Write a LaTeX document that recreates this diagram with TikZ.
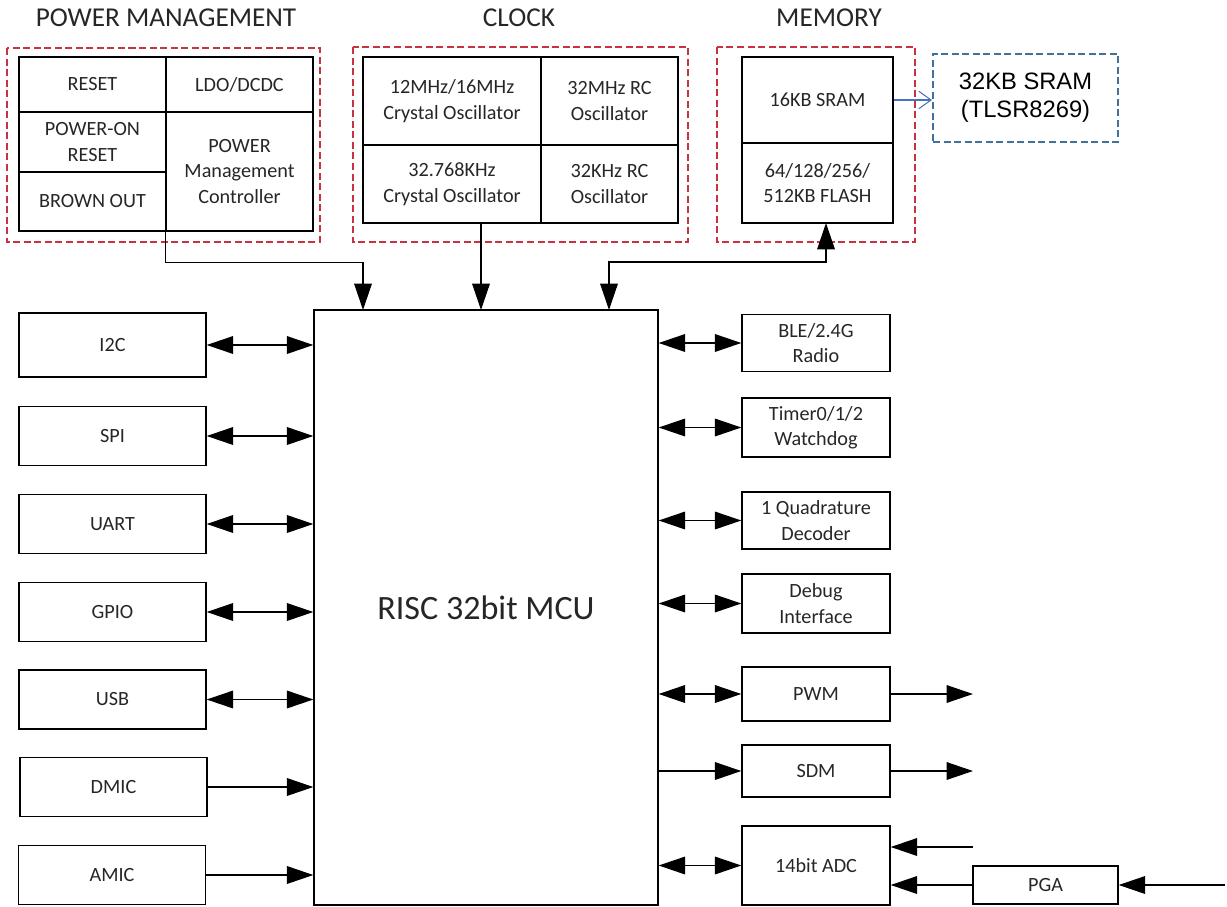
\documentclass[tikz,border=0pt]{standalone}
\usepackage{fontspec}
\setmainfont{Carlito}
\newfontfamily\arialfont{Liberation Sans}
\usetikzlibrary{arrows.meta,positioning,calc}
\definecolor{grpred}{RGB}{200,50,65}
\definecolor{extblue}{RGB}{65,113,156}
\definecolor{arrblue}{RGB}{68,114,196}
\tikzset{
  blk/.style={draw=black,line width=0.8pt,rectangle,inner sep=0pt,align=center,
    text=black!85,font=\fontsize{11.5}{14.5}\selectfont},
  grp/.style={draw=grpred,line width=0.8pt,dash pattern=on 4pt off 2pt},
  ttl/.style={anchor=base,text=black!85,font=\fontsize{15.5}{18}\selectfont},
  lcol/.style={blk,minimum width=3.74cm,minimum height=1.18cm},
  rcol/.style={blk,minimum width=2.96cm}
}

\begin{document}
\begin{tikzpicture}[x=0.02cm,y=-0.02cm,line width=0.8pt,>={Triangle[length=15pt,width=10pt]}]
   \useasboundingbox (0,0) rectangle (1227,906);
   % titles
   \node[ttl] (pwrttl) at (166,27) {POWER MANAGEMENT};
   \node[ttl] (clkttl) at (519,27) {CLOCK};
   \node[ttl] (memttl) at (829,27) {MEMORY};
   % power management
   \begin{scope}[every node/.style={blk,minimum width=2.94cm}]
    \node (reset) [minimum height=1.10cm] at (92.5,84.5) {RESET};
    \node (ldo) [minimum height=1.10cm] at (239.5,84.5) {LDO/DCDC};
    \node (por) [minimum height=1.20cm] at (92.5,142) {POWER-ON\\RESET};
    \node (bod) [minimum height=1.18cm] at (92.5,201.5) {BROWN OUT};
    \node (pmc) [minimum height=2.38cm] at (239.5,171.5) {POWER\\Management\\Controller};
   \end{scope}
   \draw[grp] (7,48) rectangle (320,242);
   % clock
   \begin{scope}[every node/.style={blk}]
    \node (xo1) [minimum width=3.56cm,minimum height=1.76cm] at (452,101) {12MHz/16MHz\\Crystal Oscillator};
    \node (rc1) [minimum width=2.74cm,minimum height=1.76cm] at (609.5,101) {32MHz RC\\Oscillator};
    \node (xo2) [minimum width=3.56cm,minimum height=1.56cm] at (452,184) {32.768KHz\\Crystal Oscillator};
    \node (rc2) [minimum width=2.74cm,minimum height=1.56cm] at (609.5,184) {32KHz RC\\Oscillator};
   \end{scope}
   \draw[grp] (353,47) rectangle (688,242);
   % memory
   \begin{scope}[every node/.style={blk,minimum width=3.02cm}]
    \node (sram) [minimum height=1.72cm] at (817.5,100) {16KB SRAM};
    \node (flash) [minimum height=1.60cm] at (817.5,183) {64/128/256/\\512KB FLASH};
   \end{scope}
   \draw[grp] (717,47) rectangle (915,242);
   \node (ext) [draw=extblue,line width=1.2pt,dash pattern=on 4pt off 2pt,minimum width=3.70cm,
     minimum height=1.76cm,align=center,font=\arialfont\fontsize{13.5}{16}\selectfont] at (1025.5,98) {32KB SRAM\\(TLSR8269)};
   \draw[arrblue,line width=0.6pt,-{Straight Barb[length=7pt,width=10pt]}] (sram.east) -- (sram.east -| ext.west);
   % core
   \node (mcu) [blk,minimum width=6.88cm,minimum height=11.90cm,font=\fontsize{19.4}{23}\selectfont] at (486,607.5) {RISC 32bit MCU};
   \coordinate (pwrin) at (363,310);
   \coordinate (clkin) at (481,310);
   \coordinate (memin) at (609,310);
   \coordinate (flashin) at (826,223);
   \draw[->] (pmc.south west) -- ++(0,31) -| (pwrin);
   \draw[->] (xo2.south -| clkin) -- (clkin);
   \draw[<->] (memin) -- ++(0,-48) -| (flashin);
   % left peripherals
   \begin{scope}[every node/.style={lcol}]
    \node (i2c) [minimum height=1.28cm] at (112.5,345) {I2C};
    \node (spi) at (112.5,436) {SPI};
    \node (uart) at (112.5,524) {UART};
    \node (gpio) at (112.5,612) {GPIO};
    \node (usb) at (112.5,699.5) {USB};
    \node (dmic) at (113.5,787) {DMIC};
    \node (amic) at (112,875) {AMIC};
   \end{scope}
   % right peripherals
   \begin{scope}[every node/.style={rcol}]
    \node (ble) [minimum height=1.14cm] at (816,343) {BLE/2.4G\\Radio};
    \node (timer) [minimum height=1.18cm] at (816,427.5) {Timer0/1/2\\Watchdog};
    \node (quad) [minimum height=1.14cm] at (816,520.5) {1 Quadrature\\Decoder};
    \node (debug) [minimum height=1.18cm] at (816,603.5) {Debug\\Interface};
    \node (pwm) [minimum height=1.08cm] at (816,694) {PWM};
    \node (sdm) [minimum height=1.04cm] at (816,771) {SDM};
    \node (adc) [minimum height=1.58cm] at (816,865.5) {14bit ADC};
    \node (pga) [minimum width=2.90cm,minimum height=0.76cm] at (1045.5,885) {PGA};
   \end{scope}
   \coordinate (pwmout) at (973,694);
   \coordinate (sdmout) at (973,771);
   \coordinate (adcin) at (973,847);
   \coordinate (pgain) at (1225,885);
   \begin{scope}[every edge/.style={draw=black,line width=0.8pt}]
    \draw (i2c.east) edge[<->] (i2c.east -| mcu.west);
    \draw (spi.east) edge[<->] (spi.east -| mcu.west);
    \draw (uart.east) edge[<->] (uart.east -| mcu.west);
    \draw (gpio.east) edge[<->] (gpio.east -| mcu.west);
    \draw (usb.east) edge[<->] (usb.east -| mcu.west);
    \draw (dmic.east) edge[->] (dmic.east -| mcu.west);
    \draw (amic.east) edge[->] (amic.east -| mcu.west);
    \draw (ble.west -| mcu.east) edge[<->] (ble.west);
    \draw (timer.west -| mcu.east) edge[<->] (timer.west);
    \draw (quad.west -| mcu.east) edge[<->] (quad.west);
    \draw (debug.west -| mcu.east) edge[<->] (debug.west);
    \draw (pwm.west -| mcu.east) edge[<->] (pwm.west);
    \draw (sdm.west -| mcu.east) edge[->] (sdm.west);
    \draw (adc.west -| mcu.east) edge[<->] (adc.west);
    \draw (pwm.east) edge[->] (pwmout);
    \draw (sdm.east) edge[->] (sdmout);
    \draw (adcin) edge[->] (adcin -| adc.east);
    \draw (pga.west) edge[->] (pga.west -| adc.east);
    \draw (pgain) edge[->] (pga.east);
   \end{scope}
\end{tikzpicture}
\end{document}
